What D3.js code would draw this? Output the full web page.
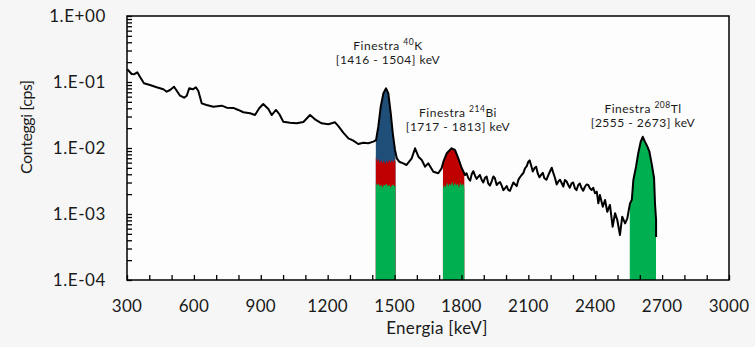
<!DOCTYPE html>
<html>
<head>
<meta charset="utf-8">
<script src="https://cdn.jsdelivr.net/npm/d3@7"></script>
<style>
  body { margin: 0; background: #f6f6f6; }
  svg { display: block; font-family: Lato, "Open Sans", sans-serif; }
</style>
</head>
<body>
<div id="chart"></div>
<script>
// spectrum: energy [keV] and counts [cps]
const energyKeV = [
  301, 321, 331, 346, 358, 376, 403, 433, 463, 478,
  493, 511, 526, 538, 556, 568, 579, 595, 609, 620,
  635, 657, 687, 725, 747, 777, 799, 822, 852, 874,
  893, 911, 934, 949, 968, 983, 1001, 1031, 1061, 1091,
  1121, 1143, 1173, 1203, 1233, 1248, 1270, 1293, 1315, 1337,
  1360, 1382, 1405, 1417, 1427, 1438, 1450, 1462, 1472, 1483,
  1492, 1502, 1510, 1521, 1539, 1554, 1577, 1592, 1607, 1622,
  1637, 1651, 1674, 1696, 1711, 1719, 1734, 1756, 1771, 1786,
  1801, 1816, 1823, 1831, 1839, 1846, 1853, 1861, 1868, 1876,
  1883, 1891, 1898, 1906, 1913, 1920, 1928, 1936, 1943, 1950,
  1958, 1965, 1973, 1981, 1988, 1995, 2003, 2010, 2018, 2025,
  2033, 2040, 2048, 2055, 2062, 2070, 2078, 2085, 2093, 2100,
  2106, 2112, 2120, 2127, 2135, 2142, 2150, 2157, 2165, 2172,
  2181, 2190, 2197, 2205, 2212, 2220, 2227, 2234, 2242, 2250,
  2257, 2264, 2272, 2279, 2286, 2294, 2301, 2309, 2316, 2324,
  2331, 2339, 2346, 2354, 2361, 2369, 2376, 2384, 2391, 2399,
  2407, 2414, 2421, 2434, 2444, 2454, 2466, 2478, 2489, 2499,
  2511, 2521, 2534, 2544, 2556, 2564, 2571, 2583, 2593, 2604,
  2613, 2623, 2634, 2643, 2653, 2664, 2668, 2673, 2673
];
const countsCps = [
  0.156, 0.132, 0.131, 0.140, 0.120, 0.0955, 0.0901, 0.0831, 0.0775, 0.0713,
  0.0756, 0.0849, 0.0713, 0.0620, 0.0578, 0.0620, 0.0803, 0.0775, 0.0831, 0.0731,
  0.0475, 0.0449, 0.0423, 0.0438, 0.0408, 0.0405, 0.0377, 0.0348, 0.0336, 0.0316,
  0.0400, 0.0464, 0.0390, 0.0316, 0.0377, 0.0327, 0.0250, 0.0242, 0.0237, 0.0248,
  0.0316, 0.0272, 0.0237, 0.0229, 0.0245, 0.0215, 0.0171, 0.0140, 0.0129, 0.0115,
  0.0120, 0.0118, 0.0125, 0.0132, 0.0210, 0.0423, 0.0674, 0.0803, 0.0674, 0.0336,
  0.0167, 0.00933, 0.00698, 0.00620, 0.00586, 0.00553, 0.00698, 0.00989, 0.00738, 0.00658,
  0.00521, 0.00586, 0.00437, 0.00414, 0.00492, 0.00620, 0.00832, 0.00989, 0.00933, 0.00698,
  0.00498, 0.00390, 0.00415, 0.00348, 0.00320, 0.00400, 0.00445, 0.00380, 0.00340, 0.00367,
  0.00390, 0.00327, 0.00300, 0.00355, 0.00370, 0.00292, 0.00270, 0.00316, 0.00370, 0.00348,
  0.00275, 0.00292, 0.00305, 0.00266, 0.00230, 0.00245, 0.00265, 0.00231, 0.00225, 0.00259,
  0.00300, 0.00282, 0.00265, 0.00327, 0.00360, 0.00390, 0.00420, 0.00492, 0.00530, 0.00620,
  0.00650, 0.00553, 0.00440, 0.00492, 0.00520, 0.00414, 0.00360, 0.00390, 0.00420, 0.00348,
  0.00330, 0.00390, 0.00440, 0.00503, 0.00420, 0.00348, 0.00280, 0.00309, 0.00330, 0.00292,
  0.00260, 0.00327, 0.00310, 0.00275, 0.00250, 0.00292, 0.00300, 0.00245, 0.00230, 0.00275,
  0.00290, 0.00245, 0.00225, 0.00259, 0.00280, 0.00275, 0.00245, 0.00231, 0.00250, 0.00206,
  0.00218, 0.00145, 0.00194, 0.00129, 0.00163, 0.00108, 0.00137, 0.000642, 0.00103, 0.000811,
  0.000481, 0.000910, 0.000722, 0.000861, 0.00145, 0.00163, 0.00327, 0.00521, 0.00832, 0.0125,
  0.0148, 0.0125, 0.0105, 0.00879, 0.00586, 0.00348, 0.00145, 0.000811, 0.000449
];

// energy windows
const windowIsotope = ['40', '214', '208'];
const windowElement = ['K', 'Bi', 'Tl'];
const windowLo = [1416, 1717, 2555];
const windowHi = [1504, 1813, 2673];

// 40K window: upper edge of the green and red layers
const kLayerKeV = [1416, 1422, 1428, 1434, 1440, 1446, 1452, 1458, 1464, 1470, 1476, 1482, 1488, 1494, 1500, 1504];
const kGreenTop = [0.0030, 0.0027, 0.0029, 0.0026, 0.0028, 0.0025, 0.0028, 0.0027, 0.0029, 0.0026, 0.0028, 0.0025, 0.0027, 0.0028, 0.0026, 0.0027];
const kRedTop = [0.0074, 0.0062, 0.0068, 0.0058, 0.0066, 0.0057, 0.0065, 0.0056, 0.0064, 0.0058, 0.0067, 0.0059, 0.0066, 0.0060, 0.0069, 0.0062];
// 214Bi window: upper edge of the green layer
const biLayerKeV = [1717, 1723, 1729, 1735, 1741, 1747, 1753, 1759, 1765, 1771, 1777, 1783, 1789, 1795, 1801, 1807, 1813];
const biGreenTop = [0.0024, 0.0028, 0.0025, 0.0030, 0.0026, 0.0029, 0.0027, 0.0031, 0.0026, 0.0030, 0.0027, 0.0029, 0.0025, 0.0030, 0.0027, 0.0029, 0.0025];

const xTicks = [300, 600, 900, 1200, 1500, 1800, 2100, 2400, 2700, 3000];
const yTicks = [1, 1e-1, 1e-2, 1e-3, 1e-4];
const yTickLabels = ['1.E+00', '1.E-01', '1.E-02', '1.E-03', '1.E-04'];

const width = 755;
const height = 347;
const margin = { top: 16, right: 26, bottom: 67, left: 127 };

const blue = '#1f4e79';
const red = '#c00000';
const green = '#00b050';
const ink = '#1a1a1a';

const x = d3.scaleLinear()
  .domain([300, 3000])
  .range([margin.left, width - margin.right]);
const y = d3.scaleLog()
  .domain([1e-4, 1])
  .range([height - margin.bottom, margin.top]);

const spectrum = d3.zip(energyKeV, countsCps);

const svg = d3.select('#chart').append('svg')
  .attr('width', width)
  .attr('height', height);

svg.append('rect')
  .attr('width', width)
  .attr('height', height)
  .attr('fill', '#f6f6f6');

svg.append('rect')
  .attr('x', margin.left)
  .attr('y', margin.top)
  .attr('width', width - margin.left - margin.right)
  .attr('height', height - margin.top - margin.bottom)
  .attr('fill', '#fdfdfd');

// one clip per window
const defs = svg.append('defs');
windowLo.forEach((lo, i) => {
  defs.append('clipPath')
    .attr('id', 'win' + i)
    .append('rect')
    .attr('x', x(lo))
    .attr('y', margin.top)
    .attr('width', x(windowHi[i]) - x(lo))
    .attr('height', height - margin.top - margin.bottom);
});

const bottom = y(1e-4);
const area = d3.area()
  .x(d => x(d[0]))
  .y0(bottom)
  .y1(d => y(d[1]));

// 40K: blue up to spectrum, then red, then green
svg.append('path')
  .datum(spectrum)
  .attr('clip-path', 'url(#win0)')
  .attr('fill', blue)
  .attr('d', area);
svg.append('path')
  .datum(d3.zip(kLayerKeV, kRedTop))
  .attr('fill', red)
  .attr('d', area);
svg.append('path')
  .datum(d3.zip(kLayerKeV, kGreenTop))
  .attr('fill', green)
  .attr('d', area);

// 214Bi: red up to spectrum, then green
svg.append('path')
  .datum(spectrum)
  .attr('clip-path', 'url(#win1)')
  .attr('fill', red)
  .attr('d', area);
svg.append('path')
  .datum(d3.zip(biLayerKeV, biGreenTop))
  .attr('fill', green)
  .attr('d', area);

// 208Tl: green up to spectrum
svg.append('path')
  .datum(spectrum)
  .attr('clip-path', 'url(#win2)')
  .attr('fill', green)
  .attr('d', area);

// spectrum line
svg.append('path')
  .datum(spectrum)
  .attr('fill', 'none')
  .attr('stroke', '#000')
  .attr('stroke-width', 2)
  .attr('stroke-linejoin', 'round')
  .attr('d', d3.line().x(d => x(d[0])).y(d => y(d[1])));

// frame
svg.append('rect')
  .attr('x', margin.left)
  .attr('y', margin.top)
  .attr('width', width - margin.left - margin.right)
  .attr('height', height - margin.top - margin.bottom)
  .attr('fill', 'none')
  .attr('stroke', '#000')
  .attr('stroke-width', 1.5);

// x axis: ticks every 100 keV pointing inwards
const xAxis = svg.append('g')
  .attr('transform', 'translate(0,' + bottom + ')')
  .call(d3.axisTop(x).tickValues(d3.range(300, 3001, 100)).tickSize(5).tickFormat(''));
xAxis.select('.domain').remove();
xAxis.selectAll('line').attr('stroke', '#000').attr('stroke-width', 1.3);

svg.append('g')
  .selectAll('text')
  .data(xTicks)
  .enter().append('text')
  .attr('x', d => x(d))
  .attr('y', bottom + 32)
  .attr('text-anchor', 'middle')
  .attr('font-size', 17)
  .attr('letter-spacing', 0.3)
  .attr('fill', ink)
  .text(d => d);

// y axis: log ticks pointing inwards
const yAxis = svg.append('g')
  .attr('transform', 'translate(' + margin.left + ',0)')
  .call(d3.axisRight(y).tickValues(y.ticks()).tickSize(5).tickFormat(''));
yAxis.select('.domain').remove();
yAxis.selectAll('line').attr('stroke', '#000').attr('stroke-width', 1.3);

svg.append('g')
  .selectAll('text')
  .data(yTicks)
  .enter().append('text')
  .attr('x', margin.left - 21)
  .attr('y', d => y(d))
  .attr('dy', '0.36em')
  .attr('text-anchor', 'end')
  .attr('font-size', 17)
  .attr('letter-spacing', 0.6)
  .attr('fill', ink)
  .text((d, i) => yTickLabels[i]);

// axis titles
svg.append('text')
  .attr('x', 437)
  .attr('y', 334)
  .attr('text-anchor', 'middle')
  .attr('font-size', 17)
  .attr('letter-spacing', 0.3)
  .attr('fill', ink)
  .text('Energia [keV]');

svg.append('text')
  .attr('transform', 'translate(32,127) rotate(-90)')
  .attr('text-anchor', 'middle')
  .attr('font-size', 16)
  .attr('textLength', 94)
  .attr('lengthAdjust', 'spacing')
  .attr('fill', ink)
  .text('Conteggi [cps]');

// window labels
const labelX = [388, 458, 643];
const labelY = [50, 117, 113];
windowLo.forEach((lo, i) => {
  const t = svg.append('text')
    .attr('x', labelX[i])
    .attr('y', labelY[i])
    .attr('text-anchor', 'middle')
    .attr('font-size', 12)
    .attr('letter-spacing', 0.5)
    .attr('fill', ink);
  t.append('tspan').text('Finestra ');
  t.append('tspan').attr('font-size', 8.5).attr('dy', -5).text(windowIsotope[i]);
  t.append('tspan').attr('dy', 5).text(windowElement[i]);

  svg.append('text')
    .attr('x', labelX[i])
    .attr('y', labelY[i] + 14)
    .attr('text-anchor', 'middle')
    .attr('font-size', 12)
    .attr('letter-spacing', 0.5)
    .attr('fill', ink)
    .text('[' + lo + ' - ' + windowHi[i] + '] keV');
});
</script>
</body>
</html>
